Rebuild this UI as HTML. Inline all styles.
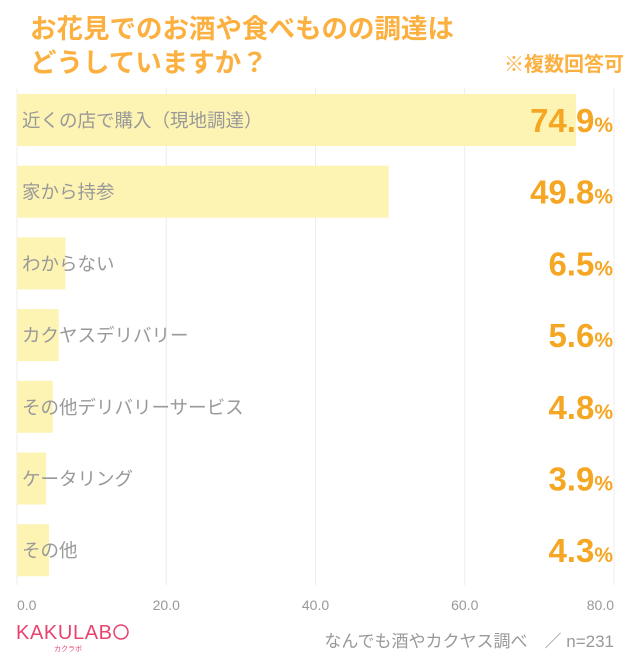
<!DOCTYPE html>
<html><head><meta charset="utf-8"><style>
body{margin:0;background:#fff;width:640px;height:654px;overflow:hidden;font-family:"Liberation Sans","Noto Sans CJK JP",sans-serif;}
</style></head><body>
<svg id="c" width="640" height="654" xmlns="http://www.w3.org/2000/svg">
<text x="30" y="38" font-size="26.5" font-weight="bold" fill="#fbb040" font-family="Liberation Sans,Noto Sans CJK JP,sans-serif">お花見でのお酒や食べものの調達は</text>
<text x="30" y="72" font-size="26.5" font-weight="bold" fill="#fbb040" font-family="Liberation Sans,Noto Sans CJK JP,sans-serif">どうしていますか？</text>
<text x="624" y="71" font-size="20" font-weight="bold" fill="#fbb040" text-anchor="end" font-family="Liberation Sans,Noto Sans CJK JP,sans-serif">※複数回答可</text>
<g id="grid"></g><g id="bars"></g><g id="ticks"></g>
<text x="16" y="639" font-size="20" fill="#e8436e" letter-spacing="0" textLength="96" font-family="Liberation Sans,sans-serif">KAKULAB</text>
<circle cx="121" cy="632" r="7" fill="none" stroke="#e8436e" stroke-width="1.5"/>
<text x="68" y="651" font-size="7" fill="#e8436e" text-anchor="middle" font-family="Noto Sans CJK JP,sans-serif">カクラボ</text>
<text x="614" y="647" font-size="17" fill="#999" text-anchor="end" font-family="Liberation Sans,Noto Sans CJK JP,sans-serif">なんでも酒やカクヤス調べ　／ n=231</text>
</svg>
<script>
const categories=["近くの店で購入（現地調達）","家から持参","わからない","カクヤスデリバリー","その他デリバリーサービス","ケータリング","その他"];
const values=[74.9,49.8,6.5,5.6,4.8,3.9,4.3];
const tickValues=[0,20,40,60,80];
const tickLabels=["0.0","20.0","40.0","60.0","80.0"];
const NS="http://www.w3.org/2000/svg";
const x0=17,x1=614,xMax=80;
const xs=v=>x0+(x1-x0)*v/xMax;
const rowTop=94,rowStep=71.7,barH=52;
const ys=i=>rowTop+i*rowStep;
function mk(t,a,p){const e=document.createElementNS(NS,t);for(const k in a)e.setAttribute(k,a[k]);p.appendChild(e);return e;}
const grid=document.getElementById('grid'),bars=document.getElementById('bars'),ticks=document.getElementById('ticks');
tickValues.forEach((v,i)=>{
 const l=mk('line',{x1:xs(v),x2:xs(v),y1:88,y2:585,stroke:'#ececec','stroke-width':1},grid);
 
 
 const t=mk('text',{x:xs(v),y:610,'font-size':14,fill:'#999','text-anchor':i===0?'start':(i===tickValues.length-1?'end':'middle')},ticks);
 t.textContent=tickLabels[i];
 
 
});
categories.forEach((c,i)=>{
 const y=ys(i);
 const r=mk('rect',{x:x0,y:y,width:xs(values[i])-x0,height:barH,fill:'#fdf3b3'},bars);
 
 
 const t=mk('text',{x:22,y:y+barH/2+7,'font-size':18.5,fill:'#999'},bars);
 t.textContent=c;
 
 
 const v=mk('text',{x:613,y:y+barH/2+12,'text-anchor':'end',fill:'#f5a623','font-weight':'bold'},bars);
 
 
 const n=mk('tspan',{'font-size':33},v);n.textContent=values[i].toFixed(1);
 const p=mk('tspan',{'font-size':21},v);p.textContent='%';
});
</script>
</body></html>
